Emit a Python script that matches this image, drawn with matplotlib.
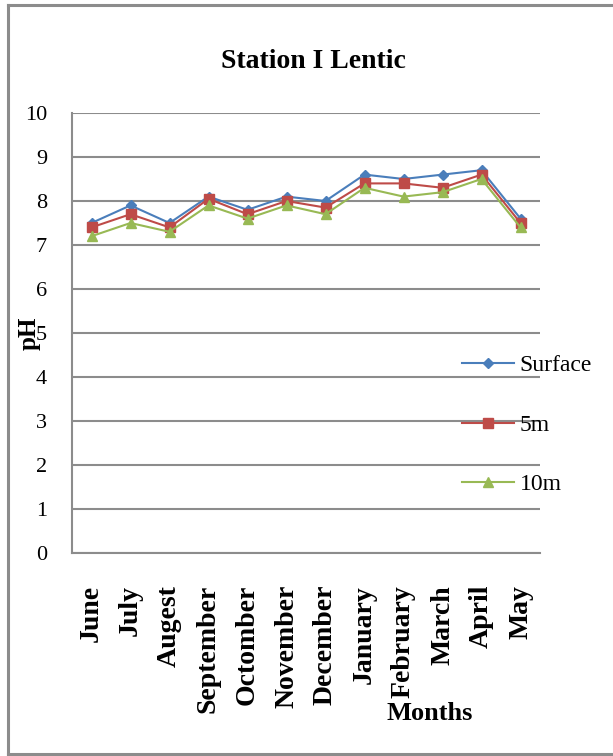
import numpy as np
import matplotlib
matplotlib.use("Agg")
import matplotlib.pyplot as plt
from matplotlib.lines import Line2D

plt.rcParams['font.family'] = ['Liberation Serif', 'DejaVu Serif']

months = ["June", "July", "Augest", "September", "Octomber", "November",
          "December", "January", "February", "March", "April", "May"]
surface = [7.5, 7.9, 7.5, 8.1, 7.8, 8.1, 8.0, 8.6, 8.5, 8.6, 8.7, 7.6]
depth_5m = [7.4, 7.7, 7.4, 8.05, 7.7, 8.0, 7.85, 8.4, 8.4, 8.3, 8.6, 7.5]
depth_10m = [7.2, 7.5, 7.3, 7.9, 7.6, 7.9, 7.7, 8.3, 8.1, 8.2, 8.5, 7.4]

W, H = 613, 756
fig = plt.figure(figsize=(W / 100, H / 100), dpi=100)
ax = fig.add_axes([72 / W, 1 - 553 / H, (540 - 72) / W, (553 - 113) / H])

x = np.arange(len(months))
ax.plot(x, surface, color='#4A7EBB', marker='D', markersize=5, lw=1.5, label='Surface')
ax.plot(x, depth_5m, color='#BE4B48', marker='s', markersize=7, lw=1.5, label='5m')
ax.plot(x, depth_10m, color='#98B954', marker='^', markersize=7, lw=1.5, label='10m')

ax.set_xlim(-0.5, len(months) - 0.5)
ax.set_ylim(0, 10)
ax.set_yticks(range(0, 11))
ax.set_xticks(x)
ax.set_xticklabels(months, rotation=90, fontsize=20, fontweight='bold')
ax.tick_params(axis='y', length=0, pad=18, labelsize=16)
ax.tick_params(axis='x', length=0, pad=23)
ax.yaxis.grid(True, color='#8c8c8c', lw=1.5)
ax.set_axisbelow(True)
for s in ['top', 'right']:
    ax.spines[s].set_visible(False)
for s in ['left', 'bottom']:
    ax.spines[s].set_color('#8c8c8c')
    ax.spines[s].set_linewidth(1.5)

fig.text(313 / W, 1 - 62 / H, "Station I Lentic", fontsize=20, fontweight='bold',
         ha='center', va='center')
fig.text(29 / W, 1 - 333 / H, "pH", fontsize=18, fontweight='bold', rotation=90,
         ha='center', va='center')
fig.text(430 / W, 1 - 713 / H, "Months", fontsize=19, fontweight='bold',
         ha='center', va='center')

ax.legend(loc='center left', bbox_to_anchor=(462 / W, 1 - 425 / H),
          bbox_transform=fig.transFigure, frameon=False, fontsize=17,
          borderpad=0, borderaxespad=0, labelspacing=1.6, handlelength=2.2,
          handletextpad=0.25)

# outer frame
fc = '#8c8c8c'
fig.add_artist(Line2D([8 / W, 8 / W], [0, 1 - 5 / H], color=fc, lw=2.2))
fig.add_artist(Line2D([8 / W, 1], [1 - 5 / H, 1 - 5 / H], color=fc, lw=2.2))
fig.add_artist(Line2D([8 / W, 1], [1 - 754 / H, 1 - 754 / H], color=fc, lw=2.2))

fig.savefig("out.png", dpi=100)
